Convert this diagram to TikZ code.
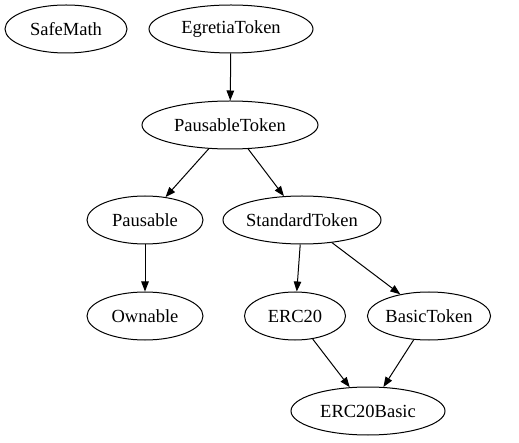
\documentclass[tikz,border=0pt]{standalone}
\usepackage{fontspec}
\setmainfont{Liberation Serif}
\usetikzlibrary{shapes.geometric,arrows.meta}
\tikzset{
	contract/.style={draw, ellipse, line width=1pt, inner sep=0pt, minimum height=48pt, font=\rmfamily\fontsize{18.5}{22}\selectfont},
	inherit/.style={-{Triangle[length=10pt,width=7.5pt]}, line width=1pt}
}
\begin{document}
\begin{tikzpicture}[x=1pt, y=-1pt]
	\useasboundingbox (0,0) rectangle (519,443);
	
	% Contracts
	\node[contract, minimum width=122pt] (SafeMath) at (66,29) {SafeMath};
	\node[contract, minimum width=164pt] (EgretiaToken) at (231,29) {EgretiaToken};
	\node[contract, minimum width=176pt] (PausableToken) at (230,125) {PausableToken};
	\node[contract, minimum width=116pt] (Pausable) at (145,220) {Pausable};
	\node[contract, minimum width=153pt] (StandardToken) at (302,220) {StandardToken};
	\node[contract, minimum width=116pt] (Ownable) at (145,316) {Ownable};
	\node[contract, minimum width=101pt] (ERC20) at (295,316) {ERC20};
	\node[contract, minimum width=118pt] (BasicToken) at (429,316) {BasicToken};
	\node[contract, minimum width=154pt] (ERC20Basic) at (368,411) {ERC20Basic};
	
	% Inheritance
	\draw[inherit] (EgretiaToken) -- (PausableToken);
	\draw[inherit] (PausableToken) -- (Pausable);
	\draw[inherit] (PausableToken) -- (StandardToken);
	\draw[inherit] (Pausable) -- (Ownable);
	\draw[inherit] (StandardToken) -- (ERC20);
	\draw[inherit] (StandardToken) -- (BasicToken);
	\draw[inherit] (ERC20) -- (ERC20Basic);
	\draw[inherit] (BasicToken) -- (ERC20Basic);
\end{tikzpicture}
\end{document}
